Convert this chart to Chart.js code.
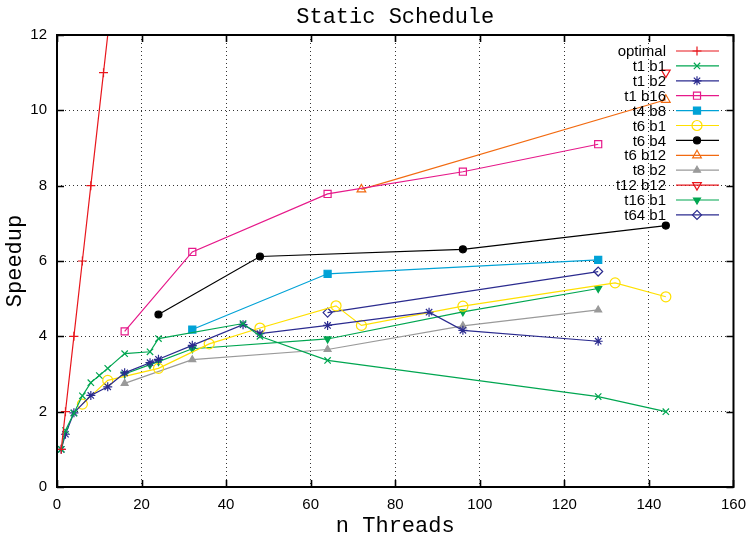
<!DOCTYPE html>
<html>
<head>
<meta charset="utf-8">
<script src="https://cdn.jsdelivr.net/npm/chart.js@4"></script>
<style>
html,body{margin:0;padding:0;background:#fff;}
#wrap{width:755px;height:542px;position:relative;}
</style>
</head>
<body>
<div id="wrap"><canvas id="c" width="755" height="542"></canvas></div>
<script>
// ---- data ----
const xTicks = [0,20,40,60,80,100,120,140,160];
const yTicks = [0,2,4,6,8,10,12];

const optimalX = [1,2,4,6,8,11,16];
const optimalY = [1,2,4,6,8,11,16];
const t1b1X = [1,2,4,6,8,10,12,16,22,24,44,48,64,128,144];
const t1b1Y = [1.0,1.5,1.96,2.42,2.77,2.96,3.15,3.54,3.59,3.94,4.34,4.0,3.36,2.4,2.0];
const t1b2X = [1,2,4,8,12,16,22,24,32,44,48,64,88,96,128];
const t1b2Y = [1.0,1.4,1.97,2.43,2.66,3.03,3.3,3.39,3.76,4.31,4.07,4.29,4.64,4.16,3.87];
const t1b16X = [16,32,64,96,128];
const t1b16Y = [4.13,6.24,7.78,8.37,9.1];
const t4b8X = [32,64,128];
const t4b8Y = [4.18,5.66,6.03];
const t6b1X = [6,12,24,36,48,66,72,96,132,144];
const t6b1Y = [2.2,2.83,3.15,3.8,4.22,4.81,4.29,4.8,5.42,5.05];
const t6b4X = [24,48,96,144];
const t6b4Y = [4.58,6.12,6.31,6.94];
const t6b12X = [72,144];
const t6b12Y = [7.9,10.28];
const t8b2X = [16,32,64,96,128];
const t8b2Y = [2.75,3.38,3.65,4.28,4.7];
const t12b12X = [144];
const t12b12Y = [11.0];
const t16b1X = [16,22,24,32,64,96,128];
const t16b1Y = [3.0,3.25,3.33,3.67,3.93,4.65,5.27];
const t64b1X = [64,128];
const t64b1Y = [4.63,5.72];

// ---- styles ----
const RED='#e8161c', GREEN='#00a651', BLUE='#2b2b8f', MAG='#e6198a', CYAN='#00a2d6',
      YEL='#ffe000', BLK='#000000', ORG='#f26a10', GRAY='#9a9a9a';
const NONE='rgba(0,0,0,0)';

function pts(xs, ys){ return xs.map((x,i)=>({x:x,y:ys[i]})); }
function ds(label, xs, ys, color, style, filled, rot, r){
  return {
    label: label, data: pts(xs, ys),
    borderColor: color, backgroundColor: filled ? color : NONE,
    pointBorderColor: color, pointBackgroundColor: filled ? color : NONE,
    pointStyle: style, pointRotation: rot||0, pointRadius: r||4.5, pointBorderWidth: 1.2,
    pointHoverRadius: r||4.5,
    borderWidth: 1.2, tension: 0, fill: false, showLine: true, clip: 0
  };
}

const datasets = [
  ds('optimal', optimalX, optimalY, RED, 'cross', false, 0, 4.5),
  ds('t1 b1', t1b1X, t1b1Y, GREEN, 'crossRot', false, 0, 4.5),
  ds('t1 b2', t1b2X, t1b2Y, BLUE, 'star', false, 0, 4.5),
  ds('t1 b16', t1b16X, t1b16Y, MAG, 'rect', false, 0, 5),
  ds('t4 b8', t4b8X, t4b8Y, CYAN, 'rect', true, 0, 5),
  ds('t6 b1', t6b1X, t6b1Y, YEL, 'circle', false, 0, 5),
  ds('t6 b4', t6b4X, t6b4Y, BLK, 'circle', true, 0, 3.5),
  ds('t6 b12', t6b12X, t6b12Y, ORG, 'triangle', false, 0, 5),
  ds('t8 b2', t8b2X, t8b2Y, GRAY, 'triangle', true, 0, 4),
  ds('t12 b12', t12b12X, t12b12Y, RED, 'triangle', false, 180, 5),
  ds('t16 b1', t16b1X, t16b1Y, GREEN, 'triangle', true, 180, 4),
  ds('t64 b1', t64b1X, t64b1Y, BLUE, 'rectRot', false, 0, 4.5)
];

const L=57, R=737, T=35, B=487;
const MONO = '"Liberation Mono", "DejaVu Sans Mono", monospace';
const SANS = '"Liberation Sans", Arial, sans-serif';

const framePlugin = {
  id: 'frame',
  beforeDatasetsDraw(chart){
    const ctx = chart.ctx, a = chart.chartArea;
    ctx.save();
    ctx.beginPath(); ctx.rect(a.left, a.top, a.right-a.left, a.bottom-a.top); ctx.clip();
  },
  afterDatasetsDraw(chart){
    chart.ctx.restore();
  },
  afterDraw(chart){
    const ctx = chart.ctx, a = chart.chartArea;
    const xs = chart.scales.x, ys = chart.scales.y;
    ctx.save();
    // inward ticks on all four sides
    ctx.strokeStyle = '#000'; ctx.lineWidth = 1.6;
    ctx.beginPath();
    xTicks.forEach(v=>{
      const p = Math.round(xs.getPixelForValue(v))+0.5;
      ctx.moveTo(p, a.bottom); ctx.lineTo(p, a.bottom-7);
      ctx.moveTo(p, a.top); ctx.lineTo(p, a.top+7);
    });
    yTicks.forEach(v=>{
      const p = Math.round(ys.getPixelForValue(v))+0.5;
      ctx.moveTo(a.left, p); ctx.lineTo(a.left+7, p);
      ctx.moveTo(a.right, p); ctx.lineTo(a.right-7, p);
    });
    ctx.stroke();
    // border box
    ctx.lineWidth = 2;
    ctx.strokeRect(a.left, a.top, a.right-a.left, a.bottom-a.top);
    // title
    ctx.fillStyle = '#000';
    ctx.font = '22px ' + MONO;
    ctx.textAlign = 'center'; ctx.textBaseline = 'middle';
    ctx.fillText('Static Schedule', (a.left+a.right)/2, 17);
    // legend
    ctx.font = '15px ' + SANS;
    ctx.textAlign = 'right';
    chart.data.datasets.forEach((d, i)=>{
      const y = 51 + i*14.9;
      ctx.fillStyle = '#000';
      ctx.fillText(d.label, 666, y+1);
      ctx.strokeStyle = d.borderColor; ctx.lineWidth = 1.2;
      ctx.beginPath(); ctx.moveTo(676, y); ctx.lineTo(719, y); ctx.stroke();
      ctx.fillStyle = d.pointBackgroundColor; ctx.strokeStyle = d.pointBorderColor; ctx.lineWidth = d.pointBorderWidth;
      Chart.helpers.drawPoint(ctx, {
        pointStyle: d.pointStyle, rotation: d.pointRotation, radius: d.pointRadius,
        borderWidth: d.pointBorderWidth
      }, 697, y);
    });
    ctx.restore();
  }
};

new Chart(document.getElementById('c'), {
  type: 'line',
  data: { datasets: datasets },
  options: {
    responsive: false, animation: false, devicePixelRatio: 1,
    layout: { padding: { top: T, right: 755-R, left: 0, bottom: 0 } },
    plugins: { legend: { display: false }, tooltip: { enabled: false }, title: { display: false } },
    scales: {
      x: {
        type: 'linear', min: 0, max: 160,
        afterBuildTicks(s){ s.ticks = xTicks.map(v=>({value:v})); },
        afterFit(s){ s.height = 542 - B; },
        border: { display: false, dash: [1,3] },
        grid: { color: '#333', lineWidth: 1, tickLength: 0, drawTicks: false },
        ticks: { color: '#000', padding: 9, maxRotation: 0, font: { family: SANS, size: 15 } },
        title: { display: true, text: 'n Threads', color: '#000', padding: { top: 0, bottom: 3 },
                 font: { family: MONO, size: 22 } }
      },
      y: {
        type: 'linear', min: 0, max: 12,
        afterBuildTicks(s){ s.ticks = yTicks.map(v=>({value:v})); },
        afterFit(s){ s.width = L; },
        border: { display: false, dash: [1,3] },
        grid: { color: '#333', lineWidth: 1, tickLength: 0, drawTicks: false },
        ticks: { color: '#000', padding: 10, font: { family: SANS, size: 15 } },
        title: { display: true, text: 'Speedup', color: '#000', padding: { top: 2, bottom: 0 },
                 font: { family: MONO, size: 22 } }
      }
    }
  },
  plugins: [framePlugin]
});
</script>
</body>
</html>
